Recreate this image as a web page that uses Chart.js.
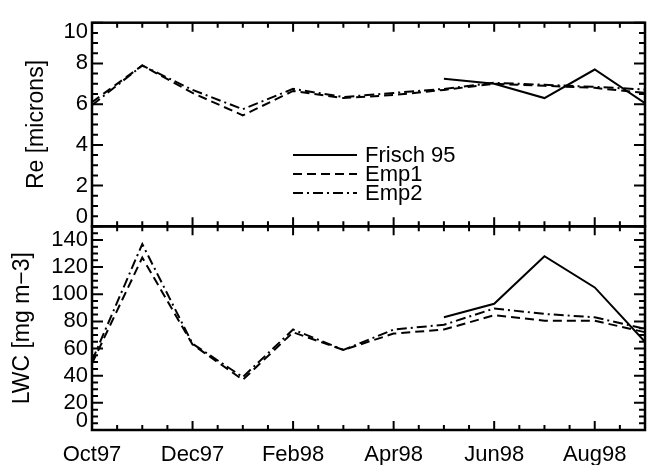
<!DOCTYPE html>
<html><head><meta charset="utf-8">
<script src="https://cdn.jsdelivr.net/npm/chart.js@4.4.1/dist/chart.umd.min.js"></script>
<style>html,body{margin:0;padding:0;background:#fff}canvas{display:block}</style>
</head><body>
<canvas id="c" width="649" height="465"></canvas>
<script>
// ---- data ----
const months = ['Oct97','Nov97','Dec97','Jan98','Feb98','Mar98','Apr98','May98','Jun98','Jul98','Aug98','Sep98'];
const xTickLabels = ['Oct97','Dec97','Feb98','Apr98','Jun98','Aug98'];
const seriesNames = ['Frisch 95','Emp1','Emp2'];
const reFrisch = [null,null,null,null,null,null,null,7.25,7.0,6.3,7.7,6.05];
const reEmp1   = [6.1,7.9,6.55,5.45,6.65,6.3,6.45,6.7,7.0,6.9,6.8,6.55];
const reEmp2   = [5.95,7.9,6.7,5.75,6.75,6.35,6.55,6.75,7.05,6.95,6.85,6.72];
const lwcFrisch = [null,null,null,null,null,null,null,83,93,128,105,65];
const lwcEmp1   = [49,127,63,37,72,59,71,74,84.5,80.5,80.5,72];
const lwcEmp2   = [51,137,63.5,39,74,59,74,77.5,89.5,85.5,83,74.5];
const reTickLabels = ['0','2','4','6','8','10'];
const lwcTickLabels = ['0','20','40','60','80','100','120','140'];
const reTitle = 'Re [microns]';
const lwcTitle = 'LWC [mg m\u22123]';

// ---- helpers ----
const FONT = "'Liberation Sans', Arial, sans-serif";
const pts = arr => arr.map((v, i) => ({x: i, y: v}));
const styles = [[], [9, 5], [10, 4, 2, 4]];
function mk(name, arr, axis, k) {
  return {label: name, data: pts(arr), yAxisID: axis, borderColor: '#000', borderWidth: 2,
    borderDash: styles[k], pointRadius: 0, tension: 0, fill: false, spanGaps: false};
}

const framePlugin = {
  id: 'frame',
  afterDatasetsDraw(chart) {
    const ctx = chart.ctx, a = chart.chartArea, xs = chart.scales.x;
    ctx.save();
    ctx.strokeStyle = '#000';
    const xMajor = xs.ticks.map(t => t.value);
    const xStep = (xMajor[1] - xMajor[0]) / 4;
    ['yRe', 'yLWC'].forEach(id => {
      const s = chart.scales[id];
      const top = s.top, bot = s.bottom;
      ctx.setLineDash([]);
      ctx.lineWidth = 2.5;
      ctx.strokeRect(a.left, top, a.right - a.left, bot - top);
      ctx.lineWidth = 2;
      ctx.beginPath();
      for (let k = 0; ; k++) {
        const v = xs.min + k * xStep;
        if (v > xs.max + 1e-9) break;
        const px = xs.getPixelForValue(v);
        const L = xMajor.some(m => Math.abs(m - v) < 1e-6) ? 9 : 5;
        ctx.moveTo(px, top); ctx.lineTo(px, top + L);
        ctx.moveTo(px, bot); ctx.lineTo(px, bot - L);
      }
      const yMajor = s.ticks.map(t => t.value);
      const yStep = (yMajor[1] - yMajor[0]) / 4;
      for (let k = 0; ; k++) {
        const v = s.min + k * yStep;
        if (v > s.max + 1e-9) break;
        const py = s.getPixelForValue(v);
        const L = yMajor.some(m => Math.abs(m - v) < 1e-6) ? 11 : 6;
        ctx.moveTo(a.left, py); ctx.lineTo(a.left + L, py);
        ctx.moveTo(a.right, py); ctx.lineTo(a.right - L, py);
      }
      ctx.stroke();
    });
    // legend inside top panel
    const lx0 = 293, lx1 = 357, tx = 365, ly = [155, 174, 193];
    ctx.font = '22px ' + FONT;
    ctx.fillStyle = '#000';
    ctx.textBaseline = 'middle';
    ctx.textAlign = 'left';
    for (let i = 0; i < 3; i++) {
      const ds = chart.data.datasets[i];
      ctx.lineWidth = 2;
      ctx.setLineDash(ds.borderDash);
      ctx.beginPath();
      ctx.moveTo(lx0, ly[i]); ctx.lineTo(lx1, ly[i]);
      ctx.stroke();
      ctx.setLineDash([]);
      ctx.fillText(ds.label, tx, ly[i] + 1);
    }
    ctx.restore();
  }
};

function yTickCb(labels, step) {
  return function(value) {
    const s = labels[Math.round(value / step)];
    if (s === undefined) return '';
    if (value === this.min) return [s, ''];
    if (value === this.max) return ['', s];
    return s;
  };
}

Chart.defaults.color = '#000';
Chart.defaults.font.family = FONT;

new Chart(document.getElementById('c'), {
  type: 'line',
  data: {
    datasets: [
      mk(seriesNames[0], reFrisch, 'yRe', 0),
      mk(seriesNames[1], reEmp1, 'yRe', 1),
      mk(seriesNames[2], reEmp2, 'yRe', 2),
      mk(seriesNames[0], lwcFrisch, 'yLWC', 0),
      mk(seriesNames[1], lwcEmp1, 'yLWC', 1),
      mk(seriesNames[2], lwcEmp2, 'yLWC', 2)
    ]
  },
  options: {
    responsive: false,
    devicePixelRatio: 1,
    animation: false,
    layout: {padding: {top: 13, right: 4, left: 0, bottom: 0}},
    plugins: {legend: {display: false}, tooltip: {enabled: false}},
    scales: {
      x: {
        type: 'linear', position: 'bottom', min: 0, max: 11,
        grid: {display: false, drawTicks: false}, border: {display: false},
        ticks: {stepSize: 2, includeBounds: false, padding: 12, maxRotation: 0, autoSkip: false,
          font: {size: 22}, color: '#000',
          callback: v => xTickLabels[v / 2] ?? ''},
        afterFit: s => { s.height = 35; }
      },
      yLWC: {
        type: 'linear', position: 'left', stack: 'panels', stackWeight: 1,
        min: 0, max: 150,
        grid: {display: false, drawTicks: false}, border: {display: false},
        ticks: {stepSize: 20, includeBounds: false, autoSkip: false, padding: 4, font: {size: 22, lineHeight: 0.85},
          callback: yTickCb(lwcTickLabels, 20)},
        title: {display: true, text: lwcTitle, font: {size: 23}, padding: {top: 9, bottom: 0}},
        afterFit: s => { s.width = 92; }
      },
      yRe: {
        type: 'linear', position: 'left', stack: 'panels', stackWeight: 1,
        min: 0, max: 10,
        grid: {display: false, drawTicks: false}, border: {display: false},
        ticks: {stepSize: 2, includeBounds: false, autoSkip: false, padding: 4, font: {size: 22, lineHeight: 0.85},
          callback: yTickCb(reTickLabels, 2)},
        title: {display: true, text: reTitle, font: {size: 23}, padding: {top: 23, bottom: 0}},
        afterFit: s => { s.width = 92; }
      }
    }
  },
  plugins: [framePlugin]
});
</script>
</body></html>
